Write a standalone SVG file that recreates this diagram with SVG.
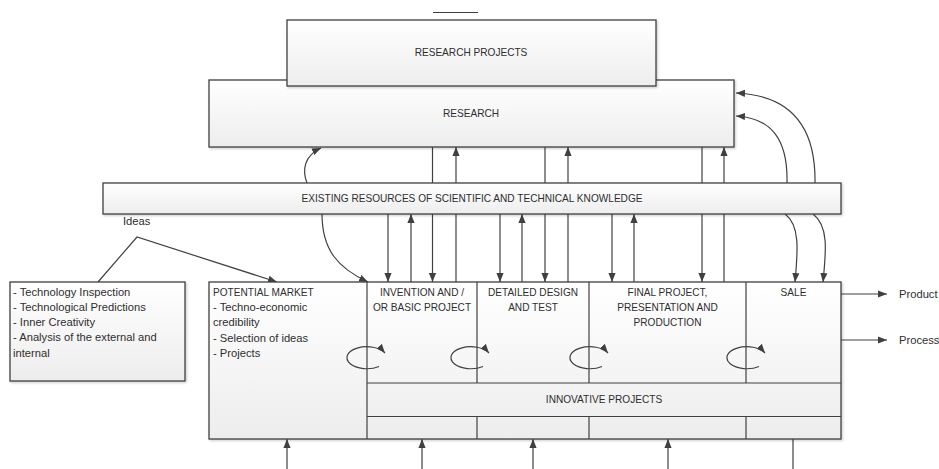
<svg xmlns="http://www.w3.org/2000/svg" width="939" height="469" viewBox="0 0 939 469">
  <defs>
    <linearGradient id="boxFill" x1="0" y1="0" x2="0" y2="1">
      <stop offset="0" stop-color="#ffffff"/>
      <stop offset="1" stop-color="#ededed"/>
    </linearGradient>
    <filter id="shadow" x="-5%" y="-5%" width="110%" height="120%">
      <feDropShadow dx="1.2" dy="1.2" stdDeviation="0.8" flood-color="#000" flood-opacity="0.2"/>
    </filter>
    <marker id="arrow" viewBox="0 0 10 8" refX="10" refY="4" markerWidth="9" markerHeight="8" markerUnits="userSpaceOnUse" orient="auto">
      <path d="M0,0 L10,4 L0,8 z" fill="#404040"/>
    </marker>
  </defs>
  <style>
    .box { fill: url(#boxFill); stroke: #404040; stroke-width: 1.3; filter: url(#shadow); }
    .div { fill: none; stroke: #404040; stroke-width: 1.2; }
    .con { fill: none; stroke: #404040; stroke-width: 1.2; }
    .arr { marker-end: url(#arrow); }
    .cap { font-family: "Liberation Sans", Arial, sans-serif; font-size: 10.1px; fill: #2e2e2e; }
    .txt { font-family: "Liberation Sans", Arial, sans-serif; font-size: 11.2px; fill: #2e2e2e; }
    .mid { text-anchor: middle; }
  </style>

  <rect width="939" height="469" fill="#ffffff"/>

  <!-- connectors sit underneath the boxes so the pass-through lines are hidden -->
  <g id="connectors">
    <line class="con" x1="433" y1="12.5" x2="478" y2="12.5"/>

    <!-- research <-> knowledge <-> stages -->
    <line class="con arr" x1="432.5" y1="147" x2="432.5" y2="282"/>
    <line class="con arr" x1="456" y1="282" x2="456" y2="147"/>
    <line class="con arr" x1="388" y1="214" x2="388" y2="282"/>
    <line class="con arr" x1="411" y1="282" x2="411" y2="214"/>
    <line class="con arr" x1="500" y1="214" x2="500" y2="282"/>
    <line class="con arr" x1="522" y1="282" x2="522" y2="214"/>
    <line class="con arr" x1="545" y1="147" x2="545" y2="282"/>
    <line class="con arr" x1="568" y1="282" x2="568" y2="147"/>
    <line class="con arr" x1="612" y1="214" x2="612" y2="282"/>
    <line class="con arr" x1="634" y1="282" x2="634" y2="214"/>
    <line class="con arr" x1="702" y1="147" x2="702" y2="282"/>
    <line class="con arr" x1="724" y1="282" x2="724" y2="147"/>

    <!-- curved links -->
    <path class="con arr" d="M307,183 C302,170 304,156 321,148"/>
    <path class="con arr" d="M322,214 C322,250 338,268 368,282"/>
    <path class="con arr" d="M787,183 C788,140 772,118 736,116"/>
    <path class="con arr" d="M815,183 C816,122 786,95 736,93"/>
    <path class="con arr" d="M785,214 C800,225 798,250 795,282"/>
    <path class="con arr" d="M813,214 C829,226 826,252 823,282"/>

    <!-- ideas -->
    <polyline class="con arr" points="98,282 137,237 277,282"/>

    <!-- outputs -->
    <line class="con arr" x1="841" y1="294" x2="887" y2="294"/>
    <line class="con arr" x1="841" y1="340" x2="887" y2="340"/>

    <!-- inputs from below -->
    <line class="con arr" x1="287" y1="469" x2="287" y2="439"/>
    <line class="con arr" x1="422" y1="469" x2="422" y2="439"/>
    <line class="con arr" x1="533" y1="469" x2="533" y2="439"/>
    <line class="con arr" x1="668" y1="469" x2="668" y2="439"/>
    <line class="con" x1="793" y1="439" x2="793" y2="469"/>
  </g>

  <g id="research">
    <rect class="box" x="209" y="80" width="525" height="67"/>
    <text class="cap mid" x="471" y="117">RESEARCH</text>
  </g>

  <g id="research-projects">
    <rect class="box" x="287" y="20" width="369" height="66"/>
    <text class="cap mid" x="471" y="56">RESEARCH PROJECTS</text>
  </g>

  <g id="knowledge">
    <rect class="box" x="103" y="183" width="738" height="31"/>
    <text class="cap mid" x="472" y="202">EXISTING RESOURCES OF SCIENTIFIC AND TECHNICAL KNOWLEDGE</text>
  </g>

  <text id="ideas-label" class="txt" x="123" y="225">Ideas</text>

  <g id="sources">
    <rect class="box" x="10" y="282" width="175" height="99"/>
    <text class="txt" x="13" y="296">- Technology Inspection</text>
    <text class="txt" x="13" y="311">- Technological Predictions</text>
    <text class="txt" x="13" y="326">- Inner Creativity</text>
    <text class="txt" x="13" y="341">- Analysis of the external and</text>
    <text class="txt" x="13" y="357">internal</text>
  </g>

  <g id="process-frame">
    <rect class="box" x="209" y="282" width="632" height="157"/>
  </g>

  <g id="potential-market">
    <line class="div" x1="367" y1="282" x2="367" y2="439"/>
    <text class="cap" x="213" y="295.6">POTENTIAL MARKET</text>
    <text class="txt" x="213" y="311">- Techno-economic</text>
    <text class="txt" x="213" y="326">credibility</text>
    <text class="txt" x="213" y="341.5">- Selection of ideas</text>
    <text class="txt" x="213" y="357">- Projects</text>
  </g>

  <g id="invention">
    <text class="cap mid" x="422" y="295.6">INVENTION AND /</text>
    <text class="cap mid" x="422" y="310.8">OR BASIC PROJECT</text>
    <path class="con arr" d="M379,366.5 A20,11 0 1 1 385,353"/>
  </g>

  <g id="detailed-design">
    <line class="div" x1="477" y1="282" x2="477" y2="383"/>
    <text class="cap mid" x="533" y="295.6">DETAILED DESIGN</text>
    <text class="cap mid" x="533" y="310.8">AND TEST</text>
    <path class="con arr" d="M483,366.5 A20,11 0 1 1 489,353"/>
  </g>

  <g id="final-project">
    <line class="div" x1="589" y1="282" x2="589" y2="383"/>
    <text class="cap mid" x="667.5" y="295.6">FINAL PROJECT,</text>
    <text class="cap mid" x="667.5" y="310.8">PRESENTATION AND</text>
    <text class="cap mid" x="667.5" y="326">PRODUCTION</text>
    <path class="con arr" d="M602,366.5 A20,11 0 1 1 608,353"/>
  </g>

  <g id="sale">
    <line class="div" x1="746" y1="282" x2="746" y2="383"/>
    <text class="cap mid" x="793.5" y="295.6">SALE</text>
    <path class="con arr" d="M759,366.5 A20,11 0 1 1 765,353"/>
  </g>

  <g id="innovative-projects">
    <line class="div" x1="367" y1="383" x2="841" y2="383"/>
    <line class="div" x1="367" y1="416.5" x2="841" y2="416.5"/>
    <text class="cap mid" x="604" y="403">INNOVATIVE PROJECTS</text>
  </g>

  <g id="base-cells">
    <line class="div" x1="477" y1="416.5" x2="477" y2="439"/>
    <line class="div" x1="589" y1="416.5" x2="589" y2="439"/>
    <line class="div" x1="746" y1="416.5" x2="746" y2="439"/>
  </g>

  <g id="outputs">
    <text class="txt" x="899" y="298">Product</text>
    <text class="txt" x="899" y="344">Process</text>
  </g>
</svg>
